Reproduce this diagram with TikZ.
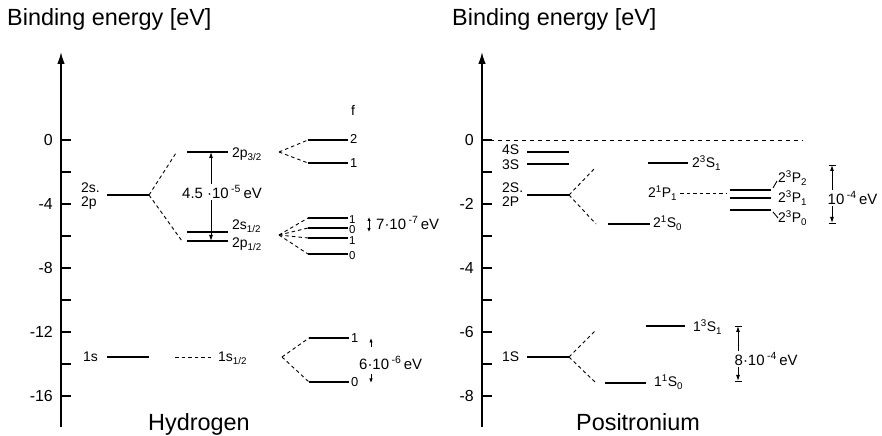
\documentclass[tikz,border=0pt]{standalone}
\usepackage{fontspec}
\setmainfont{Liberation Sans}
\usetikzlibrary{arrows.meta}
\begin{document}
\begin{tikzpicture}[x=1bp,y=-1bp,
  axis/.style={line width=1.4bp,-{Latex[length=12bp,width=7.5bp]}},
  tickmark/.style={line width=1.2bp},
  lvl/.style={line width=1.7bp},
  conn/.style={line width=0.9bp,dash pattern=on 3.5bp off 3bp},
  zeroline/.style={line width=0.9bp,dash pattern=on 4bp off 4bp},
  ttl/.style={font=\fontsize{23.5}{26}\selectfont,inner sep=0pt},
  ticklab/.style={font=\fontsize{16}{18}\selectfont,anchor=east,inner sep=0pt},
  lab/.style={font=\fontsize{14}{16}\selectfont,inner sep=0pt},
  flab/.style={font=\fontsize{13}{14}\selectfont,inner sep=0pt,anchor=west},
  tinylab/.style={font=\fontsize{11.5}{12}\selectfont,inner sep=0pt,anchor=west,
    text height=8bp,text depth=0bp},
  evlab/.style={font=\fontsize{15}{17}\selectfont,inner sep=1.5bp},
  tip/.style={line width=0.9bp,-{Latex[length=6bp,width=4bp]}},
  stip/.style={line width=0.9bp,-{Latex[length=4.5bp,width=3.5bp]}},
  dtip/.style={line width=0.9bp,{Latex[length=4bp,width=3.5bp]}-{Latex[length=4bp,width=3.5bp]}},
  barline/.style={line width=0.9bp}
]
\useasboundingbox (0,0) rectangle (882,436);

% ---------------- titles ----------------
\node[ttl,anchor=base west] (t1) at (7,26) {Binding energy [eV]};
\node[ttl,anchor=base west] (t2) at (452,26) {Binding energy [eV]};
\node[ttl,anchor=base] (hname) at (199,430) {Hydrogen};
\node[ttl,anchor=base] (pname) at (638,430) {Positronium};

% ---------------- hydrogen axis ----------------
\coordinate (hax0) at (61,427);
\coordinate (hax1) at (61,52);
\draw[axis] (hax0) -- (hax1);
\foreach \e in {0,...,8}{
  \coordinate (ht\e) at (61,{140+32*\e});
  \draw[tickmark] (ht\e) -- ++(10,0);
}
\foreach \v/\e in {0/0,-4/2,-8/4,-12/6,-16/8}
  \node[ticklab] (hl\e) at (53,{140+32*\e}) {\v};

% ---------------- positronium axis ----------------
\coordinate (pax0) at (482,427);
\coordinate (pax1) at (482,52);
\draw[axis] (pax0) -- (pax1);
\foreach \e in {0,...,8}{
  \coordinate (pt\e) at (482,{140+32*\e});
  \draw[tickmark] (pt\e) -- ++(10,0);
}
\foreach \v/\e in {0/0,-2/2,-4/4,-6/6,-8/8}
  \node[ticklab] (pl\e) at (474,{140+32*\e}) {\v};
\coordinate (pzero) at (803,140);
\draw[zeroline] (pt0) -- (pzero);

% ================= HYDROGEN =================
% n=2
\node[lab,anchor=base west] (h2s) at (81,193) {2s.};
\node[lab,anchor=base west] (h2p) at (81,207) {2p};
\coordinate (h2L) at (107,195); \coordinate (h2R) at (149,195);
\draw[lvl] (h2L) -- (h2R);
\coordinate (hsu) at (176,153); \coordinate (hsd) at (182,241);
\draw[conn] (h2R) -- (hsu);
\draw[conn] (h2R) -- (hsd);

% fine structure
\coordinate (p32L) at (187,152); \coordinate (p32R) at (228,152);
\coordinate (s12L) at (187,232); \coordinate (s12R) at (228,232);
\coordinate (p12L) at (187,241); \coordinate (p12R) at (228,241);
\draw[lvl] (p32L) -- (p32R);
\draw[lvl] (s12L) -- (s12R);
\draw[lvl] (p12L) -- (p12R);
\node[lab,anchor=base west] (lp32) at (232,158) {2p\textsubscript{3/2}};
\node[lab,anchor=base west] (ls12) at (232,230) {2s\textsubscript{1/2}};
\node[lab,anchor=base west] (lp12) at (232,248) {2p\textsubscript{1/2}};

% 4.5e-5 eV
\coordinate (a45t) at (211,152); \coordinate (a45b) at (211,241);
\node[evlab] (l45) at (222,192) {4.5 ·10\,\textsuperscript{-5}\,eV};
\draw[tip] (l45.north -| a45t) -- (a45t);
\draw[tip] (l45.south -| a45b) -- (a45b);

% hyperfine of 2p3/2
\node[lab] (fhead) at (353,110) {f};
\coordinate (hf32s) at (279,152);
\coordinate (f2L) at (308,140); \coordinate (f2R) at (348,140);
\coordinate (f1L) at (308,163); \coordinate (f1R) at (348,163);
\draw[conn] (hf32s) -- (f2L);
\draw[conn] (hf32s) -- (f1L);
\draw[lvl] (f2L) -- (f2R);
\draw[lvl] (f1L) -- (f1R);
\node[flab] (lf2) at (350,139) {2};
\node[flab] (lf1) at (350,163) {1};

% hyperfine of 2s1/2, 2p1/2
\coordinate (hf12s) at (279,235);
\foreach \n/\y/\ly/\f in {a/218/219.5/1,b/228/230/0,c/238/240.5/1,d/254/256/0}{
  \coordinate (g\n L) at (308,\y); \coordinate (g\n R) at (348,\y);
  \draw[conn] (hf12s) -- (g\n L);
  \draw[lvl] (g\n L) -- (g\n R);
  \node[tinylab] (lg\n) at (349,\ly) {\f};
}
\coordinate (a7t) at (369,217); \coordinate (a7b) at (369,232);
\draw[dtip] (a7t) -- (a7b);
\node[evlab,anchor=west,inner sep=0pt] (l7) at (376,223) {7·10\,\textsuperscript{-7}\,eV};

% n=1
\node[lab,anchor=base west] (h1s) at (83,362) {1s};
\coordinate (h1L) at (107,357); \coordinate (h1R) at (149,357);
\draw[lvl] (h1L) -- (h1R);
\coordinate (h1dL) at (175,357); \coordinate (h1dR) at (212,357);
\draw[conn] (h1dL) -- (h1dR);
\node[lab,anchor=base west] (l1s12) at (218,362) {1s\textsubscript{1/2}};
\coordinate (hf1s) at (282,357);
\coordinate (k1L) at (309,338); \coordinate (k1R) at (349,338);
\coordinate (k0L) at (309,382); \coordinate (k0R) at (349,382);
\draw[conn] (hf1s) -- (k1L);
\draw[conn] (hf1s) -- (k0L);
\draw[lvl] (k1L) -- (k1R);
\draw[lvl] (k0L) -- (k0R);
\node[flab] (lk1) at (351,338) {1};
\node[flab] (lk0) at (351,382) {0};
\node[evlab,anchor=west,inner sep=0pt] (l6) at (359,363) {6·10\,\textsuperscript{-6}\,eV};
\coordinate (a6u0) at (371,347); \coordinate (a6u1) at (371,338);
\coordinate (a6d0) at (371,374); \coordinate (a6d1) at (371,383);
\draw[stip] (a6u0) -- (a6u1);
\draw[stip] (a6d0) -- (a6d1);

% ================= POSITRONIUM =================
\node[lab,anchor=base west] (p4s) at (502,155) {4S};
\node[lab,anchor=base west] (p3s) at (502,170) {3S};
\node[lab,anchor=base west] (p2s) at (502,193) {2S.};
\node[lab,anchor=base west] (p2p) at (502,207) {2P};
\node[lab,anchor=base west] (p1s) at (502,362) {1S};
\foreach \n/\y in {four/152,three/164,two/195,one/357}{
  \coordinate (q\n L) at (527,\y); \coordinate (q\n R) at (569,\y);
  \draw[lvl] (q\n L) -- (q\n R);
}
% n=2 splitting
\coordinate (q2u) at (596,167); \coordinate (q2d) at (596,224);
\draw[conn] (qtwoR) -- (q2u);
\draw[conn] (qtwoR) -- (q2d);
\coordinate (s10L) at (608,224); \coordinate (s10R) at (650,224);
\draw[lvl] (s10L) -- (s10R);
\node[lab,anchor=base west] (ls10) at (653,228) {2\textsuperscript{1}S\textsubscript{0}};
\coordinate (s31L) at (648,163); \coordinate (s31R) at (688,163);
\draw[lvl] (s31L) -- (s31R);
\node[lab,anchor=base west] (ls31) at (692,168) {2\textsuperscript{3}S\textsubscript{1}};
\node[lab,anchor=base west] (lp11) at (648,198) {2\textsuperscript{1}P\textsubscript{1}};
\coordinate (p11e) at (727,193);
\draw[conn] (lp11.east |- p11e) ++(3,0) -- (p11e);
\coordinate (tp2L) at (730,190); \coordinate (tp2R) at (771,190);
\coordinate (tp1L) at (730,198); \coordinate (tp1R) at (771,198);
\coordinate (tp0L) at (730,210); \coordinate (tp0R) at (771,210);
\draw[lvl] (tp2L) -- (tp2R);
\draw[lvl] (tp1L) -- (tp1R);
\draw[lvl] (tp0L) -- (tp0R);
\node[lab,anchor=base west] (ltp2) at (778,183) {2\textsuperscript{3}P\textsubscript{2}};
\node[lab,anchor=base west] (ltp1) at (778,203) {2\textsuperscript{3}P\textsubscript{1}};
\node[lab,anchor=base west] (ltp0) at (778,223) {2\textsuperscript{3}P\textsubscript{0}};
\coordinate (sl2a) at (773,188); \coordinate (sl2b) at (777,181);
\coordinate (sl0a) at (773,212); \coordinate (sl0b) at (778,218);
\draw[barline] (sl2a) -- (sl2b);
\draw[barline] (sl0a) -- (sl0b);
% 1e-4 eV
\coordinate (b4t) at (832,165); \coordinate (b4b) at (832,223);
\node[evlab,anchor=west] (l4) at (826,198) {10\,\textsuperscript{-4}\,eV};
\draw[tip] (l4.north -| b4t) -- (b4t);
\draw[tip] (l4.south -| b4b) -- (b4b);
\draw[barline] ([xshift=-3.5bp]b4t) -- ([xshift=3.5bp]b4t);
\draw[barline] ([xshift=-3.5bp]b4b) -- ([xshift=3.5bp]b4b);

% n=1 splitting
\coordinate (q1u) at (596,330); \coordinate (q1d) at (596,383);
\draw[conn] (qoneR) -- (q1u);
\draw[conn] (qoneR) -- (q1d);
\coordinate (o31L) at (646,326); \coordinate (o31R) at (685,326);
\coordinate (o10L) at (605,383); \coordinate (o10R) at (646,383);
\draw[lvl] (o31L) -- (o31R);
\draw[lvl] (o10L) -- (o10R);
\node[lab,anchor=base west] (lo31) at (693,332) {1\textsuperscript{3}S\textsubscript{1}};
\node[lab,anchor=base west] (lo10) at (654,387) {1\textsuperscript{1}S\textsubscript{0}};
% 8e-4 eV
\coordinate (b8t) at (738,326); \coordinate (b8b) at (738,381);
\node[evlab,anchor=west] (l8) at (733,359) {8·10\,\textsuperscript{-4}\,eV};
\draw[tip] (l8.north -| b8t) -- (b8t);
\draw[tip] (l8.south -| b8b) -- (b8b);
\draw[barline] ([xshift=-3.5bp]b8t) -- ([xshift=3.5bp]b8t);
\draw[barline] ([xshift=-3.5bp]b8b) -- ([xshift=3.5bp]b8b);
\end{tikzpicture}
\end{document}
